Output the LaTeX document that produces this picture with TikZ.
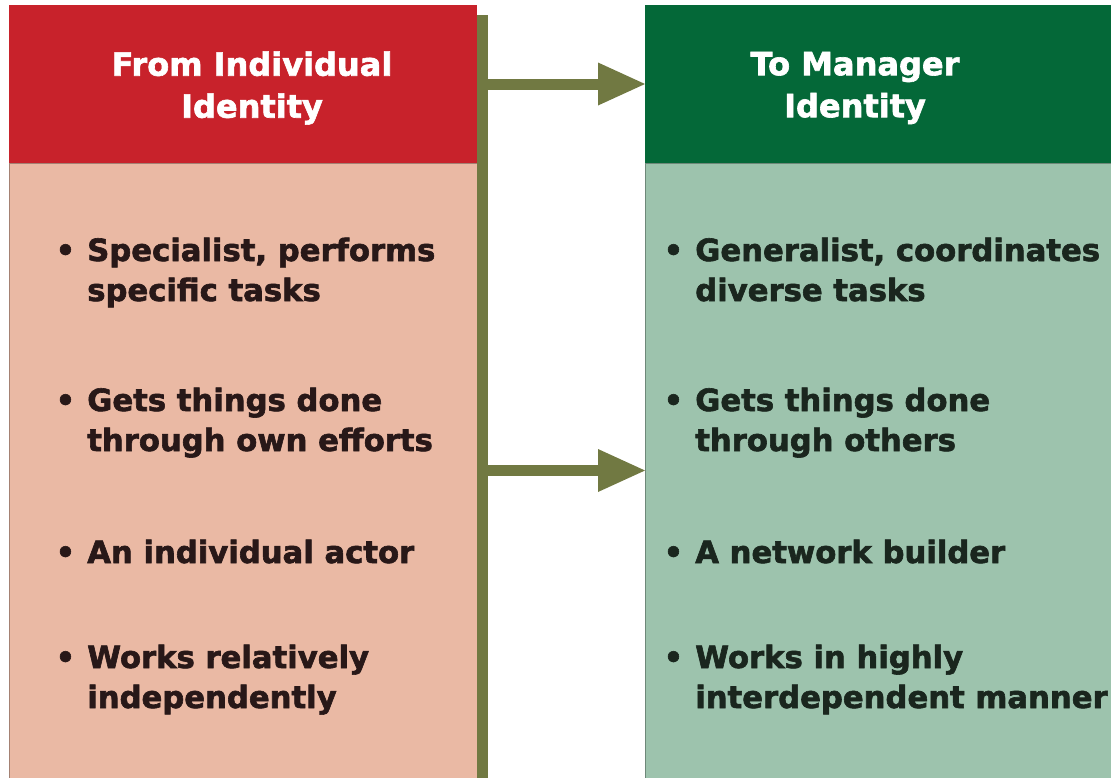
\documentclass[tikz,border=0pt]{standalone}
\usepackage{fontspec}
\setmainfont{DejaVu Sans}[BoldFeatures={FakeBold=2}]
\usetikzlibrary{arrows.meta}

\definecolor{fromred}{RGB}{200,34,43}
\definecolor{frombody}{RGB}{234,185,164}
\definecolor{togreen}{RGB}{4,104,56}
\definecolor{tobody}{RGB}{157,195,173}
\definecolor{olivebar}{RGB}{113,121,66}
\definecolor{fromink}{RGB}{40,24,24}
\definecolor{toink}{RGB}{26,38,30}

\tikzset{
  panel/.style={anchor=north west, inner sep=0pt, outer sep=0pt},
  headtext/.style={text=white, font=\bfseries\fontsize{24}{31.5}\selectfont, align=center, inner sep=0pt},
  itemtext/.style={font=\bfseries\fontsize{23}{30}\selectfont, align=left, anchor=base west, inner sep=0pt},
  flow/.style={draw=olivebar, line width=8.25pt, -{Triangle[length=35.25pt, width=32.25pt, line width=0pt]}}
}
\newcommand{\bul}{\llap{\textbullet\hspace{9pt}}}

\begin{document}
\begin{tikzpicture}[x=0.75pt,y=0.75pt,yscale=-1,xscale=1]
\useasboundingbox (0,0) rectangle (1111,778);

% left column: individual
\node[panel, fill=fromred, minimum width=351pt, minimum height=118.5pt] (fromhead) at (9,5) {};
\node[panel, fill=frombody, draw=frombody!70!black, line width=0.4pt, minimum width=351pt, minimum height=461.25pt] (frombox) at (9,163) {};

% right column: manager
\node[panel, fill=togreen, minimum width=349.5pt, minimum height=118.5pt] (tohead) at (645,5) {};
\node[panel, fill=tobody, draw=tobody!70!black, line width=0.4pt, minimum width=349.5pt, minimum height=461.25pt] (tobox) at (645,163) {};

% olive bar behind the left column
\node[panel, fill=olivebar, minimum width=8.25pt, minimum height=572.25pt] (bar) at (477,15) {};

% arrows
\draw[flow] (tohead.west -| bar.east) -- (tohead.west);
\draw[flow] (tobox.west -| bar.east) -- (tobox.west);

% Header texts
\node[headtext] (fromtitle) at (252,88) {From Individual\\Identity};
\node[headtext] (totitle) at (855,88) {To Manager\\Identity};

% left items (base = last line)
\node[itemtext, text=fromink] (from1) at (87,301) {\bul Specialist, performs\\specific tasks};
\node[itemtext, text=fromink] (from2) at (87,451) {\bul Gets things done\\through own efforts};
\node[itemtext, text=fromink] (from3) at (87,563) {\bul An individual actor};
\node[itemtext, text=fromink] (from4) at (87,708) {\bul Works relatively\\independently};

% right items
\node[itemtext, text=toink] (to1) at (695,301) {\bul Generalist, coordinates\\diverse tasks};
\node[itemtext, text=toink] (to2) at (695,451) {\bul Gets things done\\through others};
\node[itemtext, text=toink] (to3) at (695,563) {\bul A network builder};
\node[itemtext, text=toink] (to4) at (695,708) {\bul Works in highly\\interdependent manner};

\end{tikzpicture}
\end{document}
